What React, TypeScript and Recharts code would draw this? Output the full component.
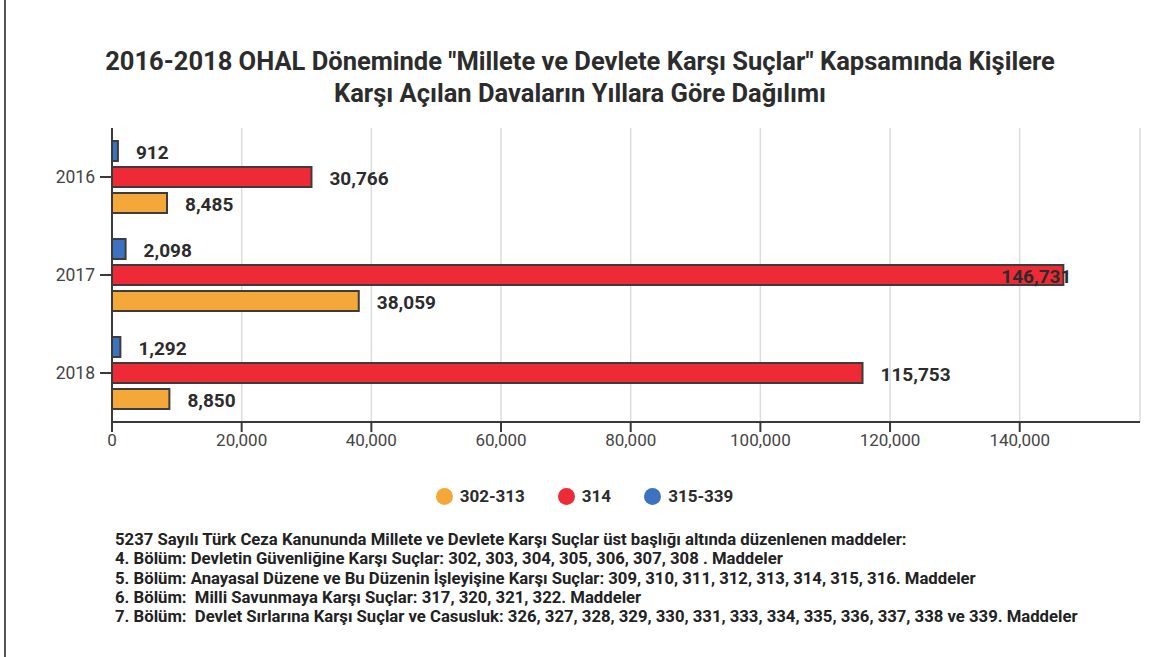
import React from 'react'
import { BarChart, Bar, XAxis, YAxis, CartesianGrid, LabelList } from 'recharts'

// yıllar ve madde gruplarına göre dava sayıları
const years = ['2016', '2017', '2018']
const s302_313 = [8485, 38059, 8850]
const s314 = [30766, 146731, 115753]
const s315_339 = [912, 2098, 1292]
const xTicks = [0, 20000, 40000, 60000, 80000, 100000, 120000, 140000]

const COLORS = {
  orange: '#f5a83a',
  red: '#ee2a36',
  blue: '#3d72c1'
}

const legendItems = [
  { name: '302-313', color: COLORS.orange },
  { name: '314', color: COLORS.red },
  { name: '315-339', color: COLORS.blue }
]

const notes = [
  '5237 Sayılı Türk Ceza Kanununda Millete ve Devlete Karşı Suçlar üst başlığı altında düzenlenen maddeler:',
  '4. Bölüm: Devletin Güvenliğine Karşı Suçlar: 302, 303, 304, 305, 306, 307, 308 . Maddeler',
  '5. Bölüm: Anayasal Düzene ve Bu Düzenin İşleyişine Karşı Suçlar: 309, 310, 311, 312, 313, 314, 315, 316. Maddeler',
  '6. Bölüm:  Milli Savunmaya Karşı Suçlar: 317, 320, 321, 322. Maddeler',
  '7. Bölüm:  Devlet Sırlarına Karşı Suçlar ve Casusluk: 326, 327, 328, 329, 330, 331, 333, 334, 335, 336, 337, 338 ve 339. Maddeler'
]

const data = years.map((year, i) => ({
  year,
  a: s302_313[i],
  b: s314[i],
  c: s315_339[i]
}))

const FONT = 'Roboto, "Noto Sans", sans-serif'
const DARK = '#2c2c2c'
const PLOT_RIGHT = 1140

const renderValue = (props: any) => {
  const { x, y, width, height, value } = props
  const text = Number(value).toLocaleString('en-US')
  const est = text.length * 10.5
  let tx = x + width + 18
  let anchor: 'start' | 'end' = 'start'
  if (tx + est > PLOT_RIGHT) {
    tx = x + width + 8
    anchor = 'end'
  }
  return (
    <text
      x={tx}
      y={y + height / 2 + 1}
      fill={DARK}
      fontSize={19}
      fontWeight={700}
      fontFamily={FONT}
      textAnchor={anchor}
      dominantBaseline="central"
    >
      {text}
    </text>
  )
}

export default function App() {
  return (
    <div style={{ position: 'absolute', left: 0, top: 0, width: 1175, height: 657, background: '#fff', fontFamily: FONT, overflow: 'hidden' }}>
      {/* sol kenar çizgisi */}
      <div style={{ position: 'absolute', left: 4, top: 0, width: 2, height: 657, background: '#555' }} />

      <div style={{ position: 'absolute', left: 0, top: 45, width: 1160, textAlign: 'center', fontSize: 25.5, fontWeight: 700, color: DARK, lineHeight: '32px', whiteSpace: 'nowrap' }}>
        2016-2018 OHAL Döneminde "Millete ve Devlete Karşı Suçlar" Kapsamında Kişilere
        <br />
        Karşı Açılan Davaların Yıllara Göre Dağılımı
      </div>

      <div style={{ position: 'absolute', left: 0, top: 0 }}>
        <BarChart
          width={1175}
          height={452}
          data={data}
          layout="vertical"
          margin={{ top: 128, right: 35, left: 0, bottom: 0 }}
          barSize={20}
          barGap={6}
        >
          <CartesianGrid horizontal={false} stroke="#dcdcdc" strokeWidth={1.5} />
          <XAxis
            type="number"
            domain={[0, 158550]}
            ticks={xTicks}
            allowDataOverflow
            tickFormatter={(v) => Number(v).toLocaleString('en-US')}
            axisLine={{ stroke: '#3a3a3a', strokeWidth: 2 }}
            tickLine={{ stroke: '#3a3a3a', strokeWidth: 2 }}
            tickSize={10}
            tick={{ fill: '#444', fontSize: 17, fontFamily: FONT }}
            height={30}
          />
          <YAxis
            type="category"
            dataKey="year"
            width={112}
            axisLine={{ stroke: '#3a3a3a', strokeWidth: 2 }}
            tickLine={{ stroke: '#3a3a3a', strokeWidth: 2 }}
            tickSize={12}
            tickMargin={5}
            tick={{ fill: '#444', fontSize: 17.5, fontFamily: FONT }}
          />
          <Bar dataKey="c" fill={COLORS.blue} stroke="#3c3c3c" strokeWidth={2} isAnimationActive={false}>
            <LabelList dataKey="c" content={renderValue} />
          </Bar>
          <Bar dataKey="b" fill={COLORS.red} stroke="#3c3c3c" strokeWidth={2} isAnimationActive={false}>
            <LabelList dataKey="b" content={renderValue} />
          </Bar>
          <Bar dataKey="a" fill={COLORS.orange} stroke="#3c3c3c" strokeWidth={2} isAnimationActive={false}>
            <LabelList dataKey="a" content={renderValue} />
          </Bar>
        </BarChart>
      </div>

      {/* lejant */}
      <div style={{ position: 'absolute', left: -3, top: 484, width: 1175, display: 'flex', justifyContent: 'center', gap: 33 }}>
        {legendItems.map(item => (
          <div key={item.name} style={{ display: 'flex', alignItems: 'center', gap: 7 }}>
            <div style={{ width: 17, height: 17, borderRadius: '50%', background: item.color }} />
            <span style={{ fontSize: 17, fontWeight: 700, color: DARK, lineHeight: '24px' }}>{item.name}</span>
          </div>
        ))}
      </div>

      {/* açıklama notları */}
      <div style={{ position: 'absolute', left: 115, top: 530, fontSize: 16.7, fontWeight: 700, color: '#222', lineHeight: '19.3px', whiteSpace: 'pre' }}>
        {notes.map((line, i) => (
          <div key={i}>{line}</div>
        ))}
      </div>
    </div>
  )
}
